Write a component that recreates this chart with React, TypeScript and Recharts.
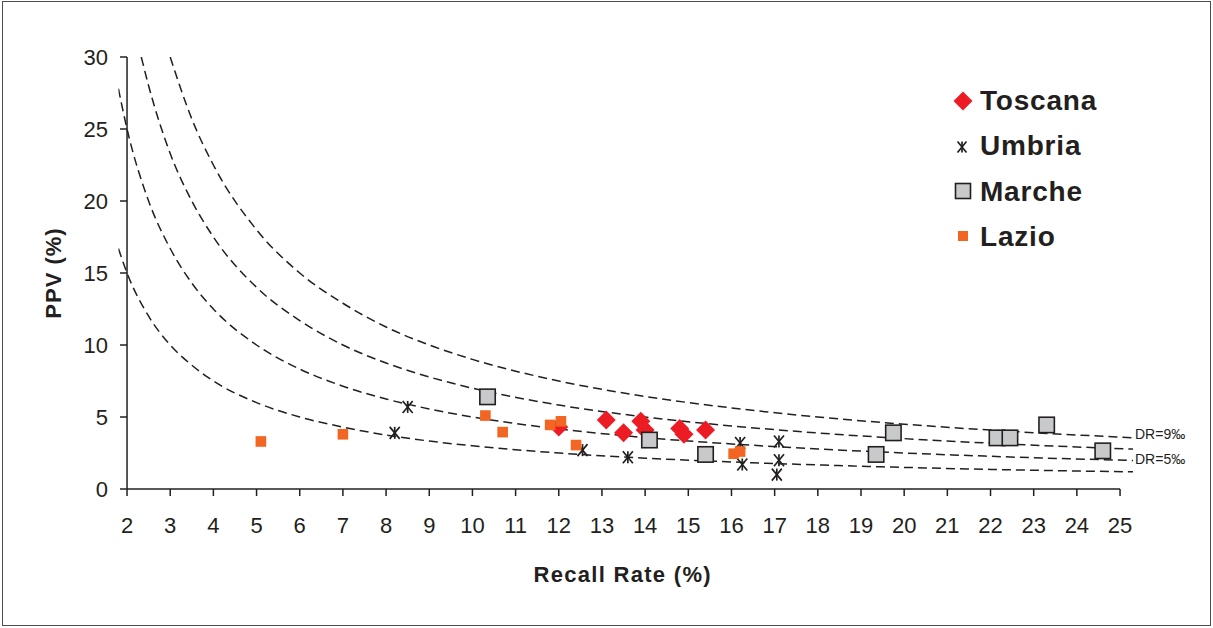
import {
  ComposedChart,
  XAxis,
  YAxis,
  Line,
  Scatter,
  ReferenceLine,
  ReferenceDot,
  Legend,
  Label,
} from "recharts";

const INK = "#231f20";
const FONT = "'Liberation Sans', Arial, sans-serif";

// rr = Recall Rate (%), ppv = PPV (%)
const toscana = [
  { rr: 12.0, ppv: 4.3 },
  { rr: 13.1, ppv: 4.8 },
  { rr: 13.5, ppv: 3.9 },
  { rr: 13.9, ppv: 4.7 },
  { rr: 14.0, ppv: 4.1 },
  { rr: 14.8, ppv: 4.2 },
  { rr: 14.9, ppv: 3.8 },
  { rr: 15.4, ppv: 4.1 },
];

const umbria = [
  { rr: 8.2, ppv: 3.9 },
  { rr: 8.5, ppv: 5.7 },
  { rr: 12.55, ppv: 2.7 },
  { rr: 13.6, ppv: 2.2 },
  { rr: 16.2, ppv: 3.2 },
  { rr: 16.25, ppv: 1.7 },
  { rr: 17.1, ppv: 3.3 },
  { rr: 17.1, ppv: 2.0 },
  { rr: 17.05, ppv: 1.0 },
];

const marche = [
  { rr: 10.35, ppv: 6.4 },
  { rr: 14.1, ppv: 3.4 },
  { rr: 15.4, ppv: 2.4 },
  { rr: 19.35, ppv: 2.4 },
  { rr: 19.75, ppv: 3.9 },
  { rr: 22.15, ppv: 3.55 },
  { rr: 22.45, ppv: 3.55 },
  { rr: 23.3, ppv: 4.45 },
  { rr: 24.6, ppv: 2.65 },
];

const lazio = [
  { rr: 5.1, ppv: 3.3 },
  { rr: 7.0, ppv: 3.8 },
  { rr: 10.3, ppv: 5.1 },
  { rr: 10.7, ppv: 3.95 },
  { rr: 11.8, ppv: 4.45 },
  { rr: 12.05, ppv: 4.7 },
  { rr: 12.4, ppv: 3.05 },
  { rr: 16.05, ppv: 2.45 },
  { rr: 16.2, ppv: 2.6 },
];

// dashed iso-detection-rate curves
const dr3 = [
  { rr: 1.8, ppv: 16.7 }, { rr: 2, ppv: 15 }, { rr: 2.5, ppv: 12 }, { rr: 3, ppv: 10 },
  { rr: 3.5, ppv: 8.6 }, { rr: 4, ppv: 7.5 }, { rr: 5, ppv: 6 }, { rr: 6, ppv: 5 },
  { rr: 7, ppv: 4.3 }, { rr: 8, ppv: 3.75 }, { rr: 9, ppv: 3.33 }, { rr: 10, ppv: 3 },
  { rr: 12, ppv: 2.5 }, { rr: 14, ppv: 2.14 }, { rr: 16, ppv: 1.88 }, { rr: 18, ppv: 1.67 },
  { rr: 20, ppv: 1.5 }, { rr: 22, ppv: 1.36 }, { rr: 25.3, ppv: 1.19 },
];
const dr5 = [
  { rr: 1.8, ppv: 27.8 }, { rr: 2, ppv: 25 }, { rr: 2.5, ppv: 20 }, { rr: 3, ppv: 16.7 },
  { rr: 3.5, ppv: 14.3 }, { rr: 4, ppv: 12.5 }, { rr: 5, ppv: 10 }, { rr: 6, ppv: 8.33 },
  { rr: 7, ppv: 7.14 }, { rr: 8, ppv: 6.25 }, { rr: 9, ppv: 5.56 }, { rr: 10, ppv: 5 },
  { rr: 12, ppv: 4.17 }, { rr: 14, ppv: 3.57 }, { rr: 16, ppv: 3.13 }, { rr: 18, ppv: 2.78 },
  { rr: 20, ppv: 2.5 }, { rr: 22, ppv: 2.27 }, { rr: 25.3, ppv: 1.98 },
];
const dr7 = [
  { rr: 2.33, ppv: 30 }, { rr: 2.5, ppv: 28 }, { rr: 3, ppv: 23.3 }, { rr: 3.5, ppv: 20 },
  { rr: 4, ppv: 17.5 }, { rr: 5, ppv: 14 }, { rr: 6, ppv: 11.7 }, { rr: 7, ppv: 10 },
  { rr: 8, ppv: 8.75 }, { rr: 9, ppv: 7.78 }, { rr: 10, ppv: 7 }, { rr: 12, ppv: 5.83 },
  { rr: 14, ppv: 5 }, { rr: 16, ppv: 4.38 }, { rr: 18, ppv: 3.89 }, { rr: 20, ppv: 3.5 },
  { rr: 22, ppv: 3.18 }, { rr: 25.3, ppv: 2.77 },
];
const dr9 = [
  { rr: 3, ppv: 30 }, { rr: 3.5, ppv: 25.7 }, { rr: 4, ppv: 22.5 }, { rr: 5, ppv: 18 },
  { rr: 6, ppv: 15 }, { rr: 7, ppv: 12.9 }, { rr: 8, ppv: 11.25 }, { rr: 9, ppv: 10 },
  { rr: 10, ppv: 9 }, { rr: 12, ppv: 7.5 }, { rr: 14, ppv: 6.43 }, { rr: 16, ppv: 5.63 },
  { rr: 18, ppv: 5 }, { rr: 20, ppv: 4.5 }, { rr: 22, ppv: 4.09 }, { rr: 25.3, ppv: 3.56 },
];

const xTicks = [2, 3, 4, 5, 6, 7, 8, 9, 10, 11, 12, 13, 14, 15, 16, 17, 18, 19, 20, 21, 22, 23, 24, 25];
const yTicks = [0, 5, 10, 15, 20, 25, 30];

// curves start a little left of x=2, so the drawn y axis sits this far inside the plot
const AXIS_SHIFT = 8.63;

const Diamond = ({ cx, cy, r = 9.5 }: any) => (
  <polygon
    points={`${cx},${cy - r} ${cx + r},${cy} ${cx},${cy + r} ${cx - r},${cy}`}
    fill="#ed1c24"
  />
);

const Asterisk = ({ cx, cy, w = 5, h = 6 }: any) => (
  <g stroke={INK} strokeWidth={1.7}>
    <line x1={cx - w} y1={cy - h} x2={cx + w} y2={cy + h} />
    <line x1={cx - w} y1={cy + h} x2={cx + w} y2={cy - h} />
    <line x1={cx} y1={cy - h} x2={cx} y2={cy + h} />
  </g>
);

const GreySquare = ({ cx, cy, r = 7.7 }: any) => (
  <rect x={cx - r} y={cy - r} width={2 * r} height={2 * r} fill="#c8c9cb" stroke={INK} strokeWidth={1.6} />
);

const OrangeSquare = ({ cx, cy, r = 5.3 }: any) => (
  <rect x={cx - r} y={cy - r} width={2 * r} height={2 * r} fill="#f26522" />
);

const YTick = ({ x, y, payload }: any) => (
  <g>
    <line x1={x + AXIS_SHIFT - 7} x2={x + AXIS_SHIFT} y1={y} y2={y} stroke={INK} strokeWidth={1.5} />
    <text
      x={x + AXIS_SHIFT - 19}
      y={y}
      dy="0.36em"
      textAnchor="end"
      fontSize={22}
      fontFamily={FONT}
      fill={INK}
    >
      {payload.value}
    </text>
  </g>
);

const legendRows = [
  { name: "Toscana", mark: <Diamond cx={13} cy={14} r={9.5} /> },
  { name: "Umbria", mark: <Asterisk cx={12} cy={15} w={4.5} h={5.5} /> },
  { name: "Marche", mark: <GreySquare cx={13} cy={14} r={7.5} /> },
  { name: "Lazio", mark: <OrangeSquare cx={13} cy={13} r={5} /> },
];

const renderLegend = () => (
  <div style={{ fontFamily: FONT }}>
    {legendRows.map((row) => (
      <div key={row.name} style={{ display: "flex", alignItems: "center", height: 45.3 }}>
        <svg width={26} height={28} style={{ marginRight: 4 }}>
          {row.mark}
        </svg>
        <span
          style={{ fontSize: 28, fontWeight: "bold", color: INK, lineHeight: "45.3px", letterSpacing: 0.8 }}
        >
          {row.name}
        </span>
      </div>
    ))}
  </div>
);

const curves = [dr3, dr5, dr7, dr9];

export default function App() {
  return (
    <div style={{ position: "absolute", left: 0, top: 0, width: 1213, height: 628, background: "#fff" }}>
      <div
        style={{
          position: "absolute",
          left: 2,
          top: 1,
          width: 1209,
          height: 625,
          border: "1.5px solid #4d4d4d",
          boxSizing: "border-box",
        }}
      />
      <div style={{ position: "absolute", left: 0, top: 0 }}>
        <ComposedChart
          width={1213}
          height={628}
          margin={{ top: 57, right: 80, bottom: 0, left: 58.4 }}
          style={{ fontFamily: FONT }}
        >
          <XAxis
            type="number"
            dataKey="rr"
            domain={[1.8, 25.3]}
            allowDataOverflow
            ticks={xTicks}
            interval={0}
            axisLine={false}
            tickLine={{ stroke: INK, strokeWidth: 1.5 }}
            tickSize={7}
            tickMargin={21}
            tick={{ fontSize: 22, fill: INK, fontFamily: FONT }}
            height={139}
          >
            <Label
              value="Recall Rate (%)"
              position="insideBottom"
              offset={46}
              dx={-3}
              style={{ fontSize: 22, fontWeight: "bold", fill: INK, fontFamily: FONT, letterSpacing: 1.3 }}
            />
          </XAxis>
          <YAxis
            type="number"
            dataKey="ppv"
            domain={[0, 30]}
            allowDataOverflow
            ticks={yTicks}
            interval={0}
            axisLine={false}
            tickLine={false}
            tickSize={0}
            tickMargin={0}
            tick={<YTick />}
            width={60}
          >
            <Label
              value="PPV (%)"
              angle={-90}
              position="insideLeft"
              offset={-5.4}
              style={{ fontSize: 22, fontWeight: "bold", fill: INK, fontFamily: FONT, textAnchor: "middle", letterSpacing: 1 }}
            />
          </YAxis>

          {curves.map((c, i) => (
            <Line
              key={i}
              data={c}
              dataKey="ppv"
              type="monotone"
              stroke={INK}
              strokeWidth={1.5}
              strokeDasharray="9 5"
              dot={false}
              activeDot={false}
              legendType="none"
              isAnimationActive={false}
            />
          ))}

          <ReferenceLine segment={[{ x: 2, y: 0 }, { x: 25, y: 0 }]} stroke={INK} strokeWidth={1.5} />
          <ReferenceLine segment={[{ x: 2, y: 0 }, { x: 2, y: 30 }]} stroke={INK} strokeWidth={1.5} />

          <ReferenceDot
            x={dr9[dr9.length - 1].rr}
            y={dr9[dr9.length - 1].ppv}
            r={0}
            label={{ value: "DR=9‰", position: "right", offset: 2, dy: -4, fontSize: 14, fill: INK, fontFamily: FONT }}
          />
          <ReferenceDot
            x={dr5[dr5.length - 1].rr}
            y={dr5[dr5.length - 1].ppv}
            r={0}
            label={{ value: "DR=5‰", position: "right", offset: 2, dy: -1, fontSize: 14, fill: INK, fontFamily: FONT }}
          />

          <Scatter name="Toscana" data={toscana} shape={<Diamond />} isAnimationActive={false} />
          <Scatter name="Umbria" data={umbria} shape={<Asterisk />} isAnimationActive={false} />
          <Scatter name="Marche" data={marche} shape={<GreySquare />} isAnimationActive={false} />
          <Scatter name="Lazio" data={lazio} shape={<OrangeSquare />} isAnimationActive={false} />

          <Legend
            layout="vertical"
            align="center"
            verticalAlign="middle"
            content={renderLegend}
            wrapperStyle={{ left: 950, top: 78, width: 220 }}
          />
        </ComposedChart>
      </div>
    </div>
  );
}
